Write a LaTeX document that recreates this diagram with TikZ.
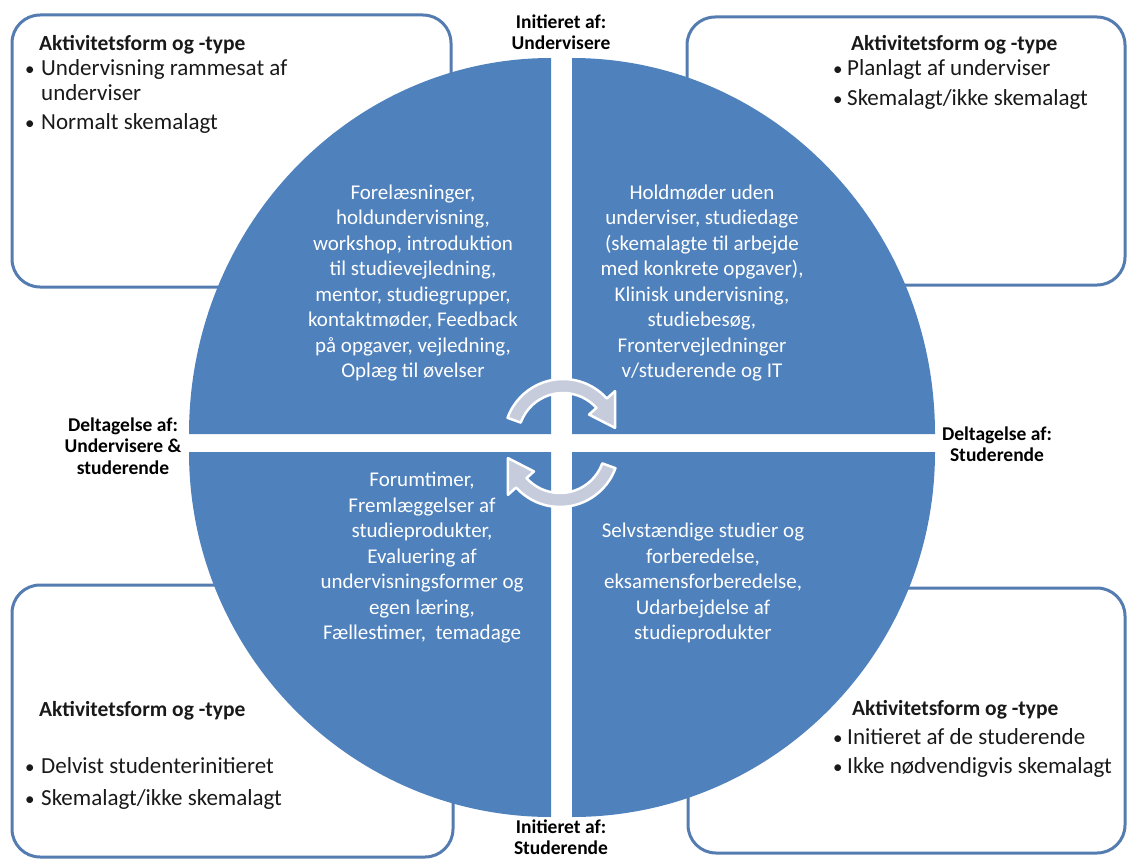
\documentclass[tikz,border=0pt]{standalone}
\usepackage{fontspec}
\setmainfont{Carlito}
\definecolor{qblue}{RGB}{79,129,189}
\definecolor{bordblue}{RGB}{84,124,176}
\definecolor{arrfill}{RGB}{198,204,220}
\definecolor{txtdark}{RGB}{25,25,25}
\tikzset{
  quad/.style={fill=qblue},
  infobox/.style={draw=bordblue, line width=3pt, rounded corners=28pt},
  ctext/.style={text=white, align=center, font=\fontsize{21}{25.5}\selectfont, inner sep=0pt},
  lbl/.style={align=center, font=\bfseries\fontsize{19.5}{21.5}\selectfont, inner sep=0pt},
  head/.style={anchor=west, font=\bfseries\fontsize{21.5}{24}\selectfont, text=txtdark, inner sep=0pt, text height=0.9em, text depth=0.25em},
  bul/.style={anchor=west, font=\fontsize{23}{25}\selectfont, text=txtdark, inner sep=0pt, text height=0.9em, text depth=0.25em},
  dot/.style={anchor=west, font=\fontsize{19}{25}\selectfont, text=txtdark, inner sep=0pt, text height=0.9em, text depth=0.25em},
  cyc/.style={fill=arrfill, draw=white, line width=2.5pt, line join=round},
}
\begin{document}
\begin{tikzpicture}[x=1pt,y=-1pt]
\useasboundingbox (0,0) rectangle (1127,859);
% corner boxes
\draw[infobox] (12,15) rectangle (451,287);
\draw[infobox] (687,17) rectangle (1125,285);
\draw[infobox] (12,585) rectangle (453,857);
\draw[infobox] (688,588) rectangle (1125,853);
% quadrants
\fill[quad] (551,434) -- ++(-362,0) arc[start angle=180,end angle=270,x radius=362,y radius=376] -- cycle;
\fill[quad] (572,434) -- ++(0,-376) arc[start angle=270,end angle=360,x radius=363,y radius=376] -- cycle;
\fill[quad] (572,452) -- ++(363,0) arc[start angle=0,end angle=90,x radius=363,y radius=365] -- cycle;
\fill[quad] (551,452) -- ++(0,365) arc[start angle=90,end angle=180,x radius=362,y radius=365] -- cycle;
% circular arrows
\coordinate (ca) at (563,438);
\coordinate (cb) at (560,448);
\draw[cyc] ([shift={(200:59)}]ca) arc[start angle=200,end angle=318,radius=59]
  -- ([shift={(318:70)}]ca) -- ([shift={(349:53)}]ca) -- ([shift={(318:35)}]ca)
  -- ([shift={(318:45)}]ca) arc[start angle=318,end angle=200,radius=45] -- cycle;
\draw[cyc] ([shift={(20:59)}]cb) arc[start angle=20,end angle=138,radius=59]
  -- ([shift={(138:70)}]cb) -- ([shift={(169:53)}]cb) -- ([shift={(138:35)}]cb)
  -- ([shift={(138:45)}]cb) arc[start angle=138,end angle=20,radius=45] -- cycle;
% quadrant texts
\node[ctext] (qtl) at (413,283) {Forelæsninger,\\holdundervisning,\\workshop, introduktion\\til studievejledning,\\mentor, studiegrupper,\\kontaktmøder, Feedback\\på opgaver, vejledning,\\Oplæg til øvelser};
\node[ctext] (qtr) at (702,283) {Holdmøder uden\\underviser, studiedage\\(skemalagte til arbejde\\med konkrete opgaver),\\Klinisk undervisning,\\studiebesøg,\\Frontervejledninger\\v/studerende og IT};
\node[ctext] (qbl) at (422,558) {Forumtimer,\\Fremlæggelser af\\studieprodukter,\\Evaluering af\\undervisningsformer og\\egen læring,\\Fællestimer,\ \ temadage};
\node[ctext] (qbr) at (703,583) {Selvstændige studier og\\forberedelse,\\eksamensforberedelse,\\Udarbejdelse af\\studieprodukter};
% axis labels
\node[lbl] (itop) at (561,32) {Initieret af:\\Undervisere};
\node[lbl] (ibot) at (561,837) {Initieret af:\\Studerende};
\node[lbl] (dleft) at (123,446) {Deltagelse af:\\Undervisere \&\\studerende};
\node[lbl] (dright) at (997,444) {Deltagelse af:\\Studerende};
% top-left box
\node[head] (h1) at (39,47) {Aktivitetsform og -type};
\node[dot] (d11) at (25,72) {•};
\node[bul] (t11) at (41,72) {Undervisning rammesat af};
\node[bul] (t11b) at (41,97) {underviser};
\node[dot] (d12) at (25,126) {•};
\node[bul] (t12) at (41,126) {Normalt skemalagt};
% top-right box
\node[head] (h2) at (851,47) {Aktivitetsform og -type};
\node[dot] (d21) at (833,72) {•};
\node[bul] (t21) at (847,72) {Planlagt af underviser};
\node[dot] (d22) at (833,102) {•};
\node[bul] (t22) at (847,102) {Skemalagt/ikke skemalagt};
% bottom-left box
\node[head] (h3) at (39,713) {Aktivitetsform og -type};
\node[dot] (d31) at (25,770) {•};
\node[bul] (t31) at (41,770) {Delvist studenterinitieret};
\node[dot] (d32) at (25,802) {•};
\node[bul] (t32) at (41,802) {Skemalagt/ikke skemalagt};
% bottom-right box
\node[head] (h4) at (852,712) {Aktivitetsform og -type};
\node[dot] (d41) at (833,741) {•};
\node[bul] (t41) at (847,741) {Initieret af de studerende};
\node[dot] (d42) at (833,770) {•};
\node[bul] (t42) at (847,770) {Ikke nødvendigvis skemalagt};
\end{tikzpicture}
\end{document}
